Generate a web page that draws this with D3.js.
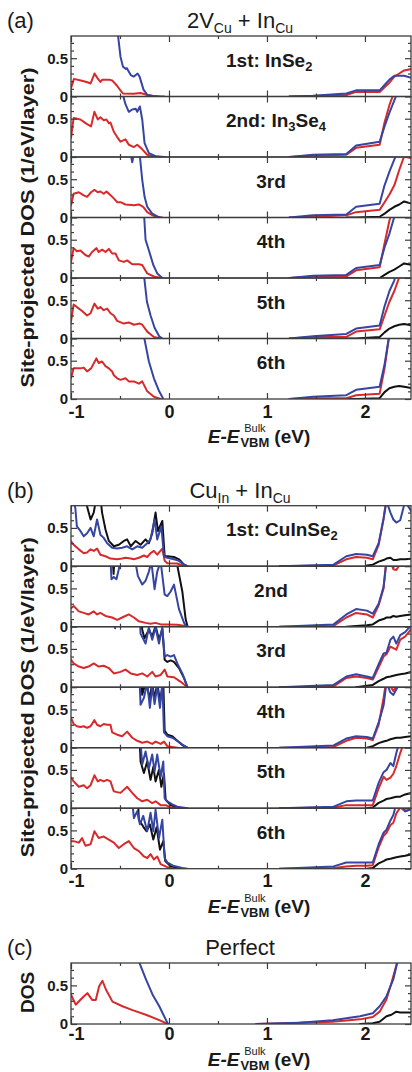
<!DOCTYPE html>
<html><head><meta charset="utf-8">
<script src="https://cdn.jsdelivr.net/npm/d3@7"></script>
<style>
body{margin:0;background:#fff}
svg{display:block}
text{font-family:"Liberation Sans",Arial,Helvetica,sans-serif;fill:#1a1a1a}
</style>
</head><body>
<svg id="chart" width="412" height="1072"></svg>
<script>
// ---------------- DATA ----------------
// x ticks (energy, eV)
const xMajorTicks = [-1, 0, 1, 2];
const xMinorTicks = [-0.5, 0.5, 1.5];
const yMajorTicks = [0, 0.5];
const yMinorTicks = [0.1, 0.2, 0.3, 0.4, 0.6, 0.7];
const yLabels = ["0", "0.5"];
const xLabels = ["-1", "0", "1", "2"];

// panel titles and row labels
const panelTitles = ["2V_{Cu} + In_{Cu}", "Cu_{In} + In_{Cu}", "Perfect"];
const panelTags = ["(a)", "(b)", "(c)"];
const rowLabelsA = ["1st: InSe_{2}", "2nd: In_{3}Se_{4}", "3rd", "4th", "5th", "6th"];
const rowLabelsB = ["1st: CuInSe_{2}", "2nd", "3rd", "4th", "5th", "6th"];

// ---- Panel (a) valence band: [E, DOS]
const aRed1 = [[-1,0.11],[-0.97,0.23],[-0.9,0.21],[-0.84,0.19],[-0.8,0.17],[-0.76,0.3],[-0.73,0.24],[-0.7,0.19],[-0.68,0.22],[-0.61,0.22],[-0.58,0.21],[-0.53,0.14],[-0.49,0.07],[-0.47,0.04],[-0.36,0.035],[-0.29,0.045],[-0.22,0.02],[-0.15,0.005],[-0.1,0]];
const aBlue1 = [[-1,0.78],[-0.99,1.3],[-0.54,1.3],[-0.525,0.85],[-0.495,0.52],[-0.47,0.39],[-0.44,0.36],[-0.43,0.37],[-0.39,0.28],[-0.36,0.26],[-0.32,0.3],[-0.3,0.26],[-0.26,0.09],[-0.22,0.02],[-0.15,0.003],[-0.05,0]];
const aRed2 = [[-1,0.25],[-0.973,0.51],[-0.904,0.49],[-0.836,0.43],[-0.795,0.4],[-0.761,0.59],[-0.727,0.49],[-0.7,0.52],[-0.666,0.48],[-0.638,0.49],[-0.614,0.44],[-0.597,0.45],[-0.563,0.33],[-0.529,0.26],[-0.495,0.2],[-0.444,0.23],[-0.41,0.16],[-0.358,0.13],[-0.324,0.16],[-0.273,0.1],[-0.222,0.03],[-0.154,0.005],[-0.085,0]];
const aBlue2 = [[-1,1.3],[-0.49,1.3],[-0.468,0.8],[-0.444,0.69],[-0.41,0.59],[-0.375,0.62],[-0.34,0.63],[-0.324,0.59],[-0.297,0.66],[-0.273,0.49],[-0.249,0.18],[-0.205,0.05],[-0.137,0.01],[-0.05,0]];
const aRed3 = [[-1,0.16],[-0.973,0.31],[-0.92,0.33],[-0.87,0.29],[-0.836,0.27],[-0.795,0.33],[-0.761,0.36],[-0.727,0.33],[-0.7,0.34],[-0.666,0.31],[-0.638,0.34],[-0.604,0.3],[-0.563,0.25],[-0.529,0.2],[-0.495,0.2],[-0.444,0.17],[-0.358,0.16],[-0.307,0.17],[-0.263,0.14],[-0.222,0.07],[-0.171,0.03],[-0.12,0.01],[-0.07,0]];
const aBlue3 = [[-1,1.3],[-0.41,1.3],[-0.39,0.82],[-0.375,0.72],[-0.36,0.82],[-0.34,1.3],[-0.31,1.3],[-0.297,0.8],[-0.273,0.49],[-0.249,0.27],[-0.222,0.14],[-0.171,0.05],[-0.1,0]];
const aRed4 = [[-1,0.21],[-0.973,0.39],[-0.94,0.35],[-0.904,0.36],[-0.853,0.3],[-0.819,0.28],[-0.785,0.34],[-0.741,0.39],[-0.717,0.34],[-0.683,0.37],[-0.648,0.34],[-0.614,0.38],[-0.58,0.32],[-0.546,0.32],[-0.512,0.23],[-0.461,0.21],[-0.427,0.23],[-0.375,0.18],[-0.307,0.18],[-0.273,0.17],[-0.222,0.06],[-0.154,0.02],[-0.085,0]];
const aBlue4 = [[-1,1.3],[-0.27,1.3],[-0.253,0.8],[-0.239,0.5],[-0.2,0.34],[-0.16,0.17],[-0.12,0.06],[-0.068,0]];
const aRed5 = [[-1,0.22],[-0.973,0.445],[-0.94,0.41],[-0.887,0.36],[-0.836,0.3],[-0.8,0.33],[-0.761,0.455],[-0.727,0.39],[-0.7,0.41],[-0.666,0.37],[-0.631,0.39],[-0.597,0.33],[-0.563,0.3],[-0.529,0.23],[-0.461,0.195],[-0.41,0.21],[-0.358,0.18],[-0.297,0.195],[-0.273,0.18],[-0.222,0.09],[-0.154,0.02],[-0.085,0]];
const aBlue5 = [[-1,1.3],[-0.27,1.3],[-0.253,0.8],[-0.225,0.48],[-0.188,0.3],[-0.147,0.14],[-0.1,0.03],[-0.068,0]];
const aRed6 = [[-1,0.27],[-0.973,0.4],[-0.904,0.4],[-0.87,0.41],[-0.836,0.36],[-0.795,0.4],[-0.741,0.53],[-0.717,0.47],[-0.683,0.49],[-0.648,0.43],[-0.614,0.4],[-0.58,0.36],[-0.563,0.31],[-0.529,0.27],[-0.495,0.25],[-0.444,0.27],[-0.41,0.23],[-0.358,0.23],[-0.307,0.2],[-0.273,0.23],[-0.222,0.1],[-0.154,0.03],[-0.085,0]];
const aBlue6 = [[-1,0.72],[-0.99,1.3],[-0.27,1.3],[-0.253,0.8],[-0.205,0.49],[-0.154,0.27],[-0.1,0.1],[-0.058,0]];

// ---- Panel (a) conduction band: shared energy grid + DOS values
const condA = [1.23, 1.47, 1.81, 1.91, 2.15, 2.20, 2.25, 2.30, 2.35, 2.40, 2.48];
const a1CbBlue = [0,0.01,0.04,0.08,0.08,0.15,0.22,0.27,0.27,0.27,0.24];
const a1CbRed  = [0,0.005,0.02,0.06,0.06,0.12,0.18,0.26,0.3,0.34,0.36];
const a2CbBlue = [0,0.03,0.04,0.15,0.2,0.4,0.58,0.74,0.9,1.2,1.2];
const a2CbRed  = [0,0.02,0.03,0.12,0.16,0.45,0.68,0.85,1.2,1.2,1.2];
const a3CbBlue = [0,0.03,0.04,0.14,0.18,0.42,0.6,0.76,0.9,1.2,1.2];
const a3CbRed  = [0,0.01,0.03,0.07,0.1,0.2,0.3,0.42,0.62,0.8,0.77];
const a3CbBlack= [null,null,0,0,0.01,0.05,0.1,0.14,0.17,0.21,0.18];
const a4CbBlue = [0,0.03,0.04,0.13,0.17,0.4,0.58,0.8,1.2,1.2,1.2];
const a4CbRed  = [0,0.02,0.02,0.1,0.14,0.45,0.75,0.95,1.2,1.2,1.2];
const a4CbBlack= [null,null,0,0,0,0.04,0.08,0.11,0.15,0.19,0.17];
const a5CbBlue = [0,0.03,0.06,0.13,0.17,0.42,0.62,0.76,1.0,1.2,1.2];
const a5CbRed  = [0,0.02,0.02,0.09,0.12,0.3,0.48,0.62,0.8,1.0,1.2];
const a5CbBlack= [null,null,0,0,0.02,0.08,0.13,0.16,0.18,0.19,0.17];
const a6CbBlue = [0,0.03,0.05,0.12,0.16,0.45,0.85,1.2,1.2,1.2,1.2];
const a6CbRed  = [0,0.01,0.01,0.05,0.07,0.4,0.85,1.2,1.2,1.2,1.2];
const a6CbBlack= [null,null,0,0,0.01,0.09,0.14,0.16,0.17,0.16,0.14];

// ---- Panel (b) valence band: [E, DOS]
const bRed1 = [[-1,0.325],[-0.973,0.28],[-0.92,0.22],[-0.87,0.17],[-0.836,0.18],[-0.8,0.22],[-0.768,0.2],[-0.734,0.23],[-0.7,0.15],[-0.648,0.13],[-0.597,0.1],[-0.529,0.09],[-0.478,0.1],[-0.444,0.11],[-0.39,0.1],[-0.358,0.09],[-0.307,0.11],[-0.256,0.14],[-0.222,0.12],[-0.188,0.17],[-0.154,0.2],[-0.12,0.15],[-0.068,0.23],[-0.044,0.07],[-0.017,0.04],[0.085,0.035],[0.136,0.01],[0.17,0]];
const bBlue1 = [[-1,1.0],[-0.973,0.85],[-0.956,0.76],[-0.94,0.52],[-0.904,0.46],[-0.87,0.39],[-0.836,0.43],[-0.8,0.5],[-0.768,0.39],[-0.734,0.61],[-0.7,0.41],[-0.666,0.37],[-0.631,0.3],[-0.58,0.24],[-0.529,0.23],[-0.478,0.24],[-0.427,0.26],[-0.375,0.22],[-0.324,0.26],[-0.273,0.24],[-0.222,0.3],[-0.188,0.35],[-0.147,0.61],[-0.12,0.35],[-0.078,0.52],[-0.051,0.13],[-0.017,0.11],[0.051,0.09],[0.102,0.07],[0.154,0.02],[0.188,0]];
const bBlack1 = [[-1,1.2],[-0.87,1.2],[-0.836,0.78],[-0.8,0.61],[-0.768,0.7],[-0.74,0.9],[-0.7,0.9],[-0.683,0.7],[-0.648,0.48],[-0.614,0.33],[-0.563,0.26],[-0.512,0.28],[-0.461,0.33],[-0.427,0.35],[-0.39,0.26],[-0.34,0.33],[-0.29,0.28],[-0.239,0.35],[-0.205,0.3],[-0.171,0.43],[-0.137,0.7],[-0.113,0.46],[-0.068,0.59],[-0.044,0.13],[-0.017,0.13],[0.051,0.12],[0.102,0.09],[0.154,0.02],[0.188,0]];
const bRed2 = [[-1,0.24],[-0.973,0.27],[-0.92,0.2],[-0.87,0.18],[-0.82,0.16],[-0.768,0.2],[-0.734,0.16],[-0.7,0.18],[-0.648,0.14],[-0.58,0.12],[-0.529,0.09],[-0.478,0.12],[-0.41,0.16],[-0.358,0.12],[-0.307,0.07],[-0.239,0.05],[-0.188,0.04],[-0.137,0.05],[-0.085,0.03],[-0.017,0.03],[0.085,0.025],[0.17,0.01],[0.195,0]];
const bBlue2 = [[-1,1.2],[-0.61,1.2],[-0.587,0.62],[-0.563,0.65],[-0.536,0.62],[-0.512,0.75],[-0.495,0.9],[-0.35,0.9],[-0.317,0.66],[-0.273,0.55],[-0.239,0.6],[-0.205,0.72],[-0.18,0.85],[-0.147,0.49],[-0.12,0.72],[-0.085,0.85],[-0.044,0.42],[-0.017,0.4],[0.017,0.46],[0.051,0.55],[0.102,0.23],[0.154,0.05],[0.18,0]];
const bBlack2 = [[-1,1.2],[-0.59,1.2],[-0.565,0.69],[-0.545,1.2],[0.07,1.2],[0.085,0.8],[0.136,0.46],[0.17,0.1],[0.19,0]];
const bRed3 = [[-1,0.36],[-0.973,0.31],[-0.92,0.27],[-0.87,0.25],[-0.82,0.27],[-0.768,0.31],[-0.717,0.27],[-0.666,0.28],[-0.614,0.25],[-0.563,0.18],[-0.495,0.2],[-0.444,0.23],[-0.39,0.18],[-0.324,0.16],[-0.273,0.18],[-0.222,0.14],[-0.171,0.2],[-0.137,0.14],[-0.085,0.16],[-0.044,0.23],[-0.017,0.14],[0.051,0.13],[0.12,0.07],[0.188,0]];
const bBlue3 = [[-1,1.2],[-0.57,1.2],[-0.55,0.77],[-0.53,1.2],[-0.31,1.2],[-0.29,0.7],[-0.239,0.57],[-0.205,0.78],[-0.171,0.62],[-0.137,0.78],[-0.102,0.57],[-0.068,0.78],[-0.044,0.4],[-0.017,0.42],[0.017,0.4],[0.051,0.42],[0.085,0.31],[0.136,0.18],[0.188,0]];
const bBlack3 = [[-1,1.2],[-0.3,1.2],[-0.273,0.75],[-0.25,0.64],[-0.205,0.75],[-0.171,0.66],[-0.137,0.8],[-0.102,0.62],[-0.068,0.76],[-0.044,0.36],[-0.017,0.33],[0.017,0.35],[0.051,0.33],[0.102,0.25],[0.154,0.12],[0.188,0]];
const bRed4 = [[-1,0.39],[-0.973,0.31],[-0.94,0.28],[-0.904,0.27],[-0.87,0.28],[-0.836,0.26],[-0.8,0.28],[-0.761,0.36],[-0.734,0.3],[-0.7,0.28],[-0.666,0.31],[-0.631,0.3],[-0.597,0.3],[-0.58,0.2],[-0.529,0.17],[-0.478,0.15],[-0.427,0.21],[-0.375,0.13],[-0.324,0.09],[-0.273,0.065],[-0.222,0.08],[-0.171,0.05],[-0.137,0.08],[-0.085,0.05],[-0.051,0.08],[-0.017,0.02],[0.085,0]];
const bBlue4 = [[-1,1.2],[-0.31,1.2],[-0.29,0.56],[-0.256,0.65],[-0.222,0.85],[-0.195,0.52],[-0.171,0.8],[-0.147,0.57],[-0.12,0.8],[-0.092,0.52],[-0.068,0.85],[-0.051,0.2],[-0.017,0.15],[0.034,0.13],[0.085,0.09],[0.136,0.04],[0.188,0]];
const bBlack4 = [[-1,1.2],[-0.29,1.2],[-0.273,0.69],[-0.239,0.85],[-0.195,0.65],[-0.171,0.85],[-0.147,0.63],[-0.12,0.85],[-0.092,0.61],[-0.058,0.85],[-0.044,0.22],[-0.017,0.17],[0.034,0.15],[0.085,0.09],[0.136,0.035],[0.188,0]];
const bRed5 = [[-1,0.4],[-0.973,0.35],[-0.92,0.28],[-0.87,0.3],[-0.836,0.26],[-0.8,0.3],[-0.761,0.43],[-0.727,0.35],[-0.7,0.37],[-0.666,0.35],[-0.631,0.37],[-0.597,0.35],[-0.563,0.22],[-0.495,0.2],[-0.427,0.28],[-0.375,0.2],[-0.324,0.13],[-0.273,0.09],[-0.222,0.11],[-0.171,0.065],[-0.137,0.09],[-0.085,0.04],[-0.034,0.04],[0.017,0.01],[0.085,0]];
const bBlue5 = [[-1,1.2],[-0.31,1.2],[-0.273,0.57],[-0.239,0.74],[-0.205,0.52],[-0.171,0.7],[-0.147,0.48],[-0.12,0.7],[-0.085,0.41],[-0.058,0.61],[-0.044,0.13],[-0.017,0.09],[0.034,0.05],[0.085,0.02],[0.188,0]];
const bBlack5 = [[-1,1.2],[-0.31,1.2],[-0.29,0.61],[-0.256,0.46],[-0.222,0.61],[-0.188,0.37],[-0.16,0.54],[-0.137,0.35],[-0.102,0.5],[-0.078,0.28],[-0.051,0.45],[-0.034,0.11],[0.017,0.04],[0.085,0.01],[0.136,0]];
const bRed6 = [[-1,0.36],[-0.973,0.36],[-0.92,0.34],[-0.887,0.4],[-0.853,0.3],[-0.8,0.32],[-0.761,0.49],[-0.717,0.4],[-0.666,0.42],[-0.614,0.38],[-0.563,0.34],[-0.512,0.27],[-0.461,0.32],[-0.41,0.36],[-0.358,0.27],[-0.307,0.23],[-0.256,0.16],[-0.222,0.14],[-0.188,0.19],[-0.154,0.12],[-0.12,0.16],[-0.085,0.06],[-0.017,0.02],[0.051,0]];
const bBlue6 = [[-1,1.2],[-0.4,1.2],[-0.358,0.66],[-0.324,0.75],[-0.297,0.58],[-0.263,0.69],[-0.222,0.49],[-0.188,0.73],[-0.16,0.49],[-0.137,0.77],[-0.102,0.4],[-0.068,0.64],[-0.044,0.14],[-0.017,0.08],[0.051,0.035],[0.136,0.01],[0.188,0]];
const bBlack6 = [[-1,1.2],[-0.33,1.2],[-0.307,0.64],[-0.263,0.55],[-0.23,0.49],[-0.195,0.58],[-0.16,0.38],[-0.126,0.54],[-0.092,0.25],[-0.058,0.36],[-0.038,0.1],[0.017,0.03],[0.12,0]];

// ---- Panel (b) conduction band: shared energy grid + DOS values
const condB = [1.13, 1.68, 1.81, 1.91, 2.02, 2.08, 2.14, 2.19, 2.22, 2.26, 2.29, 2.32, 2.36, 2.41, 2.48];
const b1CbBlue = [0,0.02,0.13,0.16,0.15,0.13,0.3,0.62,0.85,0.7,0.61,0.57,0.6,0.85,0.7];
const b1CbRed  = [0,0.01,0.09,0.12,0.11,0.09,0.28,0.62,0.9,1.2,1.2,1.2,1.2,1.2,1.2];
const b1CbBlack= [null,null,null,null,0.01,0.02,0.06,0.08,0.1,0.11,0.08,0.08,0.09,0.09,0.1];
const b2CbBlue = [0,0.03,0.16,0.23,0.21,0.17,0.3,0.52,0.85,0.9,0.78,0.8,0.9,0.9,0.9];
const b2CbRed  = [0,0.01,0.12,0.18,0.16,0.12,0.28,0.5,0.9,0.85,0.75,0.74,0.82,0.9,0.9];
const b2CbBlack= [null,null,0,0.01,0.02,0.03,0.08,0.1,0.12,0.12,0.14,0.13,0.14,0.15,0.16];
const b3CbBlue = [0,0.03,0.14,0.17,0.14,0.12,0.3,0.44,0.45,0.62,0.66,0.57,0.68,0.72,0.82];
const b3CbRed  = [0,0.01,0.12,0.14,0.12,0.1,0.26,0.4,0.43,0.53,0.51,0.49,0.62,0.66,0.77];
const b3CbBlack= [null,null,null,0,0.02,0.03,0.08,0.11,0.13,0.14,0.15,0.16,0.17,0.18,0.2];
const b4CbBlue = [0,0.03,0.12,0.15,0.14,0.12,0.33,0.55,0.85,0.72,0.69,0.76,0.85,0.9,0.9];
const b4CbRed  = [0,0.01,0.09,0.13,0.12,0.1,0.3,0.65,0.9,0.8,0.74,0.8,0.9,0.9,0.76];
const b4CbBlack= [null,null,null,null,0,0.02,0.06,0.08,0.09,0.11,0.12,0.13,0.13,0.14,0.15];
const b5CbBlue = [0,0.02,0.09,0.1,0.1,0.1,0.33,0.47,0.5,0.59,0.55,0.72,0.9,0.9,0.9];
const b5CbRed  = [0,0.01,0.04,0.04,0.04,0.04,0.26,0.41,0.37,0.4,0.45,0.55,0.72,0.9,0.9];
const b5CbBlack= [null,null,null,null,0,0.01,0.07,0.1,0.12,0.13,0.14,0.15,0.15,0.18,0.2];
const b6CbBlue = [0,0.03,0.08,0.08,0.08,0.08,0.32,0.47,0.51,0.63,0.7,0.85,0.9,0.75,0.78];
const b6CbRed  = [0,0.01,0.03,0.04,0.04,0.045,0.28,0.43,0.47,0.57,0.6,0.72,0.8,0.75,0.78];
const b6CbBlack= [null,null,null,null,0,0.01,0.07,0.1,0.12,0.13,0.14,0.15,0.16,0.17,0.19];

// ---- Panel (c) perfect crystal: [E, DOS]
const cRedVb  = [[-1,0.38],[-0.952,0.25],[-0.884,0.34],[-0.833,0.4],[-0.782,0.31],[-0.747,0.31],[-0.713,0.49],[-0.679,0.56],[-0.645,0.45],[-0.577,0.29],[-0.475,0.23],[-0.372,0.18],[-0.236,0.12],[-0.099,0.05],[-0.03,0.01],[-0.01,0]];
const cBlueVb = [[-1,1.2],[-0.33,1.2],[-0.304,0.8],[-0.236,0.58],[-0.167,0.38],[-0.099,0.23],[-0.03,0.05],[-0.01,0]];
const cRedCb  = [[0.89,0],[1.67,0.03],[1.95,0.06],[2.08,0.09],[2.15,0.16],[2.22,0.32],[2.27,0.53],[2.34,0.85]];
const cBlueCb = [[0.89,0],[1.33,0.015],[1.67,0.05],[1.95,0.1],[2.08,0.14],[2.15,0.23],[2.22,0.36],[2.29,0.58],[2.34,0.85]];
const cBlackCb= [[1.95,0],[2.08,0.01],[2.15,0.03],[2.22,0.1],[2.27,0.12],[2.32,0.16],[2.36,0.15],[2.48,0.15]];

// ---------------- DRAWING ----------------
const RED = "#d8292b", BLUE = "#3645a3", BLACK = "#111111", FRAME = "#3c3c3c";
const FONT = '"Liberation Sans",Arial,sans-serif';
const svg = d3.select("#chart");
const x = d3.scaleLinear().domain([-1, 2.47]).range([71, 411]);
const zipCb = (grid, vals) => grid.map((e, i) => [e, vals[i]]);
const noLabel = () => "";

function rich(sel, str, subSize, subDy) {
  const parts = str.split(/(_\{[^}]*\})/).filter(p => p.length);
  let inSub = false;
  parts.forEach(p => {
    if (p.startsWith("_{")) {
      sel.append("tspan").attr("font-size", subSize).attr("dy", inSub ? 0 : subDy).text(p.slice(2, -1));
      inSub = true;
    } else {
      sel.append("tspan").attr("dy", inSub ? -subDy : 0).text(p);
      inSub = false;
    }
  });
}

const rowsA = [
  [{d: aRed1, c: RED}, {d: aBlue1, c: BLUE}, {d: zipCb(condA, a1CbRed), c: RED}, {d: zipCb(condA, a1CbBlue), c: BLUE}],
  [{d: aRed2, c: RED}, {d: aBlue2, c: BLUE}, {d: zipCb(condA, a2CbRed), c: RED}, {d: zipCb(condA, a2CbBlue), c: BLUE}],
  [{d: zipCb(condA, a3CbBlack), c: BLACK}, {d: aRed3, c: RED}, {d: aBlue3, c: BLUE}, {d: zipCb(condA, a3CbRed), c: RED}, {d: zipCb(condA, a3CbBlue), c: BLUE}],
  [{d: zipCb(condA, a4CbBlack), c: BLACK}, {d: aRed4, c: RED}, {d: aBlue4, c: BLUE}, {d: zipCb(condA, a4CbRed), c: RED}, {d: zipCb(condA, a4CbBlue), c: BLUE}],
  [{d: zipCb(condA, a5CbBlack), c: BLACK}, {d: aRed5, c: RED}, {d: aBlue5, c: BLUE}, {d: zipCb(condA, a5CbRed), c: RED}, {d: zipCb(condA, a5CbBlue), c: BLUE}],
  [{d: zipCb(condA, a6CbBlack), c: BLACK}, {d: aRed6, c: RED}, {d: aBlue6, c: BLUE}, {d: zipCb(condA, a6CbRed), c: RED}, {d: zipCb(condA, a6CbBlue), c: BLUE}]
];
const bVb = [[bRed1,bBlue1,bBlack1],[bRed2,bBlue2,bBlack2],[bRed3,bBlue3,bBlack3],[bRed4,bBlue4,bBlack4],[bRed5,bBlue5,bBlack5],[bRed6,bBlue6,bBlack6]];
const bCb = [[b1CbRed,b1CbBlue,b1CbBlack],[b2CbRed,b2CbBlue,b2CbBlack],[b3CbRed,b3CbBlue,b3CbBlack],[b4CbRed,b4CbBlue,b4CbBlack],[b5CbRed,b5CbBlue,b5CbBlack],[b6CbRed,b6CbBlue,b6CbBlack]];
const rowsB = bVb.map((v, i) => [
  {d: v[2], c: BLACK}, {d: zipCb(condB, bCb[i][2]), c: BLACK},
  {d: v[0], c: RED}, {d: zipCb(condB, bCb[i][0]), c: RED},
  {d: v[1], c: BLUE}, {d: zipCb(condB, bCb[i][1]), c: BLUE}
]);
const rowsC = [[{d: cBlackCb, c: BLACK}, {d: cRedVb, c: RED}, {d: cRedCb, c: RED}, {d: cBlueVb, c: BLUE}, {d: cBlueCb, c: BLUE}]];

const panels = [
  {top: 36,    rowH: 60.5, rows: rowsA, labels: rowLabelsA, ylab: "Site-projected DOS (1/eV/layer)", xPad: 6, titleGap: 44},
  {top: 505.7, rowH: 60.5, rows: rowsB, labels: rowLabelsB, ylab: "Site-projected DOS (1/eV/layer)", xPad: 6, titleGap: 44},
  {top: 963,   rowH: 61,   rows: rowsC, labels: [""],       ylab: "DOS", xPad: 3, titleGap: 42}
];

let clipId = 0;
panels.forEach((p, pi) => {
  const g = svg.append("g");
  const n = p.rows.length;
  const bottom = p.top + n * p.rowH;

  // Panel tag and title
  g.append("text").attr("x", 7).attr("y", p.top - 8).attr("font-size", 22).text(panelTags[pi]);
  const tt = g.append("text").attr("x", 240).attr("y", p.top - 8).attr("font-size", 22).attr("text-anchor", "middle");
  rich(tt, panelTitles[pi], 14, 5);

  p.rows.forEach((series, ri) => {
    const top = p.top + ri * p.rowH;
    const zero = top + p.rowH;
    const y = d3.scaleLinear().domain([0, 0.79]).range([zero, top]);
    const cid = "clip" + (clipId++);
    svg.append("clipPath").attr("id", cid).append("rect")
      .attr("x", x.range()[0]).attr("y", top).attr("width", x.range()[1] - x.range()[0]).attr("height", p.rowH);

    const line = d3.line().defined(d => d[1] != null).x(d => x(d[0])).y(d => y(d[1]));
    const lg = g.append("g").attr("clip-path", `url(#${cid})`);
    series.forEach(s => {
      lg.append("path").datum(s.d).attr("d", line)
        .attr("fill", "none").attr("stroke", s.c).attr("stroke-width", 2)
        .attr("stroke-linejoin", "round").attr("stroke-linecap", "round");
    });

    // axes: inward ticks on all four sides
    const isLast = ri === n - 1;
    g.append("g").attr("transform", `translate(0,${top})`)
      .call(d3.axisTop(x).tickValues(xMajorTicks).tickSize(-6).tickFormat(noLabel));
    g.append("g").attr("transform", `translate(0,${top})`)
      .call(d3.axisTop(x).tickValues(xMinorTicks).tickSize(-3).tickFormat(noLabel));
    const axB = g.append("g").attr("transform", `translate(0,${zero})`)
      .call(d3.axisBottom(x).tickValues(xMajorTicks).tickSize(-6).tickPadding(p.xPad)
        .tickFormat(isLast ? ((d, i) => xLabels[i]) : noLabel));
    g.append("g").attr("transform", `translate(0,${zero})`)
      .call(d3.axisBottom(x).tickValues(xMinorTicks).tickSize(-3).tickFormat(noLabel));
    axB.selectAll("text").attr("font-size", 18).attr("font-weight", "bold").attr("fill", "#1a1a1a")
      .attr("font-family", FONT)
      .attr("dx", d => d === -1 ? 5 : 0);   // keep "-1" clear of the "0" y label

    const axL = g.append("g").attr("transform", `translate(${x.range()[0]},0)`)
      .call(d3.axisLeft(y).tickValues(yMajorTicks).tickSize(-6).tickPadding(3)
        .tickFormat((d, i) => yLabels[i]));
    g.append("g").attr("transform", `translate(${x.range()[0]},0)`)
      .call(d3.axisLeft(y).tickValues(yMinorTicks).tickSize(-3).tickFormat(noLabel));
    axL.selectAll("text").attr("font-size", 15).attr("font-weight", "bold").attr("fill", "#1a1a1a")
      .attr("font-family", FONT);
    g.append("g").attr("transform", `translate(${x.range()[1]},0)`)
      .call(d3.axisRight(y).tickValues(yMajorTicks).tickSize(-6).tickFormat(noLabel));
    g.append("g").attr("transform", `translate(${x.range()[1]},0)`)
      .call(d3.axisRight(y).tickValues(yMinorTicks).tickSize(-3).tickFormat(noLabel));

    // frame
    g.append("rect").attr("x", x.range()[0]).attr("y", top)
      .attr("width", x.range()[1] - x.range()[0]).attr("height", p.rowH)
      .attr("fill", "none").attr("stroke", FRAME).attr("stroke-width", 1.3);

    // row label
    const lab = p.labels[ri];
    if (lab) {
      const long = lab.indexOf(":") >= 0;
      const t = g.append("text").attr("x", long ? 226 : 271).attr("y", top + 30.5)
        .attr("text-anchor", long ? "start" : "middle")
        .attr("font-size", 19).attr("font-weight", "bold");
      rich(t, lab, 13, 4);
    }
  });

  g.selectAll(".domain").remove();
  g.selectAll(".tick line").attr("stroke", FRAME).attr("stroke-width", 1.2);

  // y-axis label
  const yc = pi < 2 ? (p.top + bottom) / 2 + 10 : (p.top + bottom) / 2 - 1;
  const yl = g.append("text").attr("transform", `translate(34,${yc}) rotate(-90)`)
    .attr("text-anchor", "middle").attr("font-size", 19).attr("font-weight", "bold").text(p.ylab);
  if (pi < 2) yl.attr("textLength", 320).attr("lengthAdjust", "spacingAndGlyphs");

  // x-axis title: E-E_VBM^Bulk (eV)
  const base = bottom + p.titleGap;
  const xt = g.append("g");
  const t1 = xt.append("text").attr("y", base).attr("font-size", 19).attr("font-weight", "bold")
    .attr("font-style", "italic").text("E-E");
  const w1 = t1.node().getComputedTextLength();
  const t2 = xt.append("text").attr("x", w1 + 1).attr("y", base + 4).attr("font-size", 13).attr("font-weight", "bold").text("VBM");
  const w2 = t2.node().getComputedTextLength();
  xt.append("text").attr("x", w1 + 1 + w2 / 2).attr("y", base - 11).attr("font-size", 11)
    .attr("text-anchor", "middle").text("Bulk");
  const t4 = xt.append("text").attr("x", w1 + w2 + 6).attr("y", base).attr("font-size", 19)
    .attr("font-weight", "bold").text("(eV)");
  const total = w1 + w2 + 6 + t4.node().getComputedTextLength();
  xt.attr("transform", `translate(${259 - total / 2},0)`);
});
</script>
</body></html>
